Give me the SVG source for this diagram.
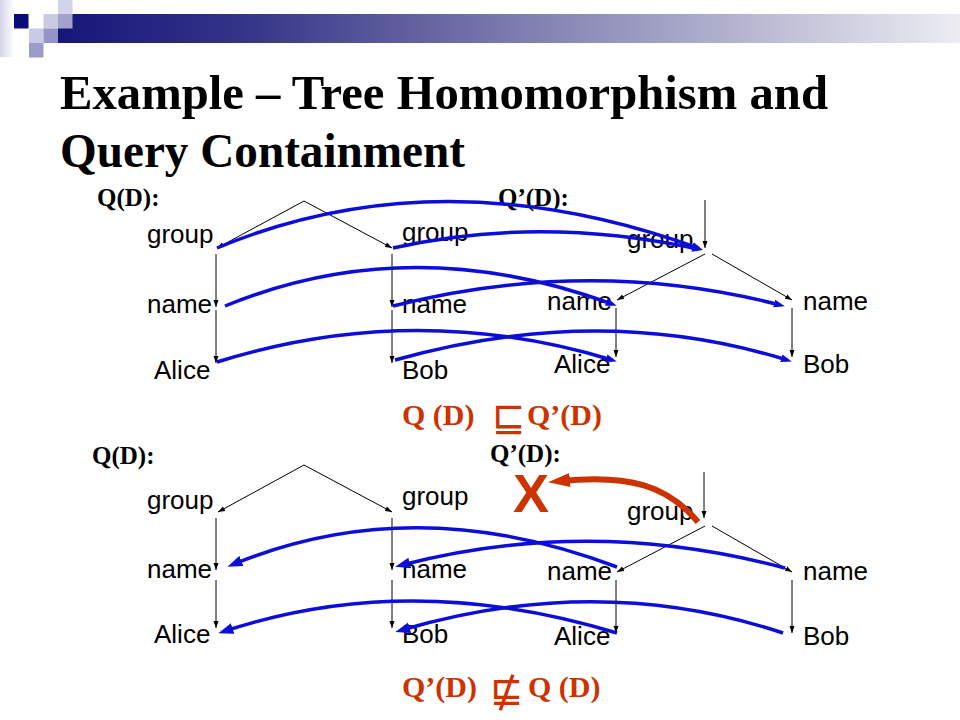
<svg xmlns="http://www.w3.org/2000/svg" width="960" height="720" viewBox="0 0 960 720">
<style>
.title{font-family:"Liberation Serif","Times New Roman",serif;font-weight:bold;font-size:48px;fill:#000}
.lbl{font-family:"Liberation Serif","Times New Roman",serif;font-weight:bold;font-size:25px;fill:#000}
.node{font-family:"Liberation Sans",Arial,sans-serif;font-size:26px;fill:#000}
.rel{font-family:"Liberation Serif","Times New Roman",serif;font-weight:bold;font-size:30px;fill:#cc3300}
.sym{font-family:"DejaVu Sans",sans-serif;font-size:40px;fill:#cc3300}
.edge{stroke:#000;stroke-width:1;fill:none;marker-end:url(#ah)}
.mapS{stroke:#0d0dd9;stroke-width:3.5;fill:none;marker-end:url(#bs)}
.mapL{stroke:#0d0dd9;stroke-width:3.5;fill:none;marker-end:url(#bl)}
</style>
<defs>
<linearGradient id="bar" x1="0" y1="0" x2="1" y2="0">
<stop offset="0" stop-color="#16167a"/>
<stop offset="0.2" stop-color="#333388"/>
<stop offset="0.55" stop-color="#8686b4"/>
<stop offset="1" stop-color="#ececf2"/>
</linearGradient>
<linearGradient id="strip" x1="0" y1="0" x2="1" y2="0">
<stop offset="0" stop-color="#d4d4ea"/>
<stop offset="1" stop-color="#ffffff"/>
</linearGradient>
<marker id="ah" markerUnits="userSpaceOnUse" markerWidth="7" markerHeight="6" refX="7" refY="3" orient="auto">
<path d="M0,0.5 L7,3 L0,5.5 z" fill="#000"/>
</marker>
<marker id="bs" markerUnits="userSpaceOnUse" markerWidth="12" markerHeight="9" refX="6" refY="4.5" orient="auto">
<path d="M0,0.5 L11,4.5 L0,8.5 z" fill="#0d0dd9"/>
</marker>
<marker id="bl" markerUnits="userSpaceOnUse" markerWidth="16" markerHeight="12" refX="8" refY="6" orient="auto">
<path d="M0,0.5 L15,6 L0,11.5 z" fill="#0d0dd9"/>
</marker>
<marker id="rh" markerUnits="userSpaceOnUse" markerWidth="23" markerHeight="15" refX="10" refY="7.5" orient="auto">
<path d="M0,0.5 L22,7.5 L0,14.5 z" fill="#cc3300"/>
</marker>
</defs>
<rect width="960" height="720" fill="#fff"/>
<g id="decoration">
<rect x="0" y="0" width="14" height="57" fill="url(#strip)"/>
<rect x="58" y="14" width="902" height="29" fill="url(#bar)"/>
<rect x="14" y="14" width="14.5" height="14.5" fill="#0a0a78"/>
<rect x="58" y="0" width="14.5" height="14.5" fill="#d2d2e8"/>
<rect x="43.5" y="14" width="14.5" height="14.5" fill="#cacae2"/>
<rect x="58" y="14" width="14.5" height="14.5" fill="#a2a2cc"/>
<rect x="29" y="28.5" width="14.5" height="14.5" fill="#cacae4"/>
<rect x="43.5" y="28.5" width="14.5" height="14.5" fill="#9494c6"/>
<rect x="29" y="43" width="14.5" height="14.5" fill="#9c9cca"/>
</g>
<g id="title">
<text class="title" x="60" y="109" textLength="768" lengthAdjust="spacingAndGlyphs">Example – Tree Homomorphism and</text>
<text class="title" x="60" y="167" textLength="405" lengthAdjust="spacingAndGlyphs">Query Containment</text>
</g>
<g id="labels">
<text class="lbl" x="97" y="206">Q(D):</text>
<text class="lbl" x="498" y="206">Q’(D):</text>
<text class="lbl" x="92" y="464">Q(D):</text>
<text class="lbl" x="490" y="462">Q’(D):</text>
</g>
<g id="top-q">
<g id="t-q-group1"><text class="node" x="147" y="243">group</text></g>
<g id="t-q-group2"><text class="node" x="402" y="241">group</text></g>
<g id="t-q-name1"><text class="node" x="147" y="313">name</text></g>
<g id="t-q-name2"><text class="node" x="402" y="313">name</text></g>
<g id="t-q-alice"><text class="node" x="154" y="379">Alice</text></g>
<g id="t-q-bob"><text class="node" x="402" y="379">Bob</text></g>
</g>
<g id="top-qp">
<g id="t-qp-group"><text class="node" x="627" y="248">group</text></g>
<g id="t-qp-name1"><text class="node" x="547" y="310">name</text></g>
<g id="t-qp-name2"><text class="node" x="803" y="310">name</text></g>
<g id="t-qp-alice"><text class="node" x="554" y="373">Alice</text></g>
<g id="t-qp-bob"><text class="node" x="803" y="373">Bob</text></g>
</g>
<g id="bottom-q">
<g id="b-q-group1"><text class="node" x="147" y="509">group</text></g>
<g id="b-q-group2"><text class="node" x="402" y="505">group</text></g>
<g id="b-q-name1"><text class="node" x="147" y="578">name</text></g>
<g id="b-q-name2"><text class="node" x="402" y="578">name</text></g>
<g id="b-q-alice"><text class="node" x="154" y="643">Alice</text></g>
<g id="b-q-bob"><text class="node" x="402" y="643">Bob</text></g>
</g>
<g id="bottom-qp">
<g id="b-qp-group"><text class="node" x="627" y="520">group</text></g>
<g id="b-qp-name1"><text class="node" x="547" y="580">name</text></g>
<g id="b-qp-name2"><text class="node" x="803" y="580">name</text></g>
<g id="b-qp-alice"><text class="node" x="554" y="645">Alice</text></g>
<g id="b-qp-bob"><text class="node" x="803" y="645">Bob</text></g>
</g>
<g id="connectors">
<line class="edge" x1="304" y1="201" x2="217" y2="248"/>
<line class="edge" x1="304" y1="201" x2="392" y2="248"/>
<line class="edge" x1="216" y1="254" x2="216" y2="307"/>
<line class="edge" x1="216" y1="310" x2="216" y2="363"/>
<line class="edge" x1="392" y1="254" x2="392" y2="307"/>
<line class="edge" x1="392" y1="310" x2="392" y2="363"/>
<line class="edge" x1="705" y1="200" x2="705" y2="248"/>
<line class="edge" x1="705" y1="254" x2="617" y2="300"/>
<line class="edge" x1="712" y1="254" x2="792" y2="300"/>
<line class="edge" x1="616" y1="308" x2="616" y2="357"/>
<line class="edge" x1="792" y1="308" x2="792" y2="357"/>
<line class="edge" x1="304" y1="465" x2="218" y2="512"/>
<line class="edge" x1="304" y1="465" x2="392" y2="512"/>
<line class="edge" x1="216" y1="518" x2="216" y2="570"/>
<line class="edge" x1="216" y1="580" x2="216" y2="628"/>
<line class="edge" x1="392" y1="518" x2="392" y2="570"/>
<line class="edge" x1="392" y1="580" x2="392" y2="628"/>
<line class="edge" x1="704" y1="472" x2="704" y2="518"/>
<line class="edge" x1="705" y1="526" x2="617" y2="572"/>
<line class="edge" x1="712" y1="526" x2="792" y2="572"/>
<line class="edge" x1="616" y1="580" x2="616" y2="633"/>
<line class="edge" x1="792" y1="580" x2="792" y2="633"/>
</g>
<g id="mappings">
<path class="mapS" d="M217,248 Q440,155 698,248"/>
<path class="mapS" d="M393,248 Q540,215 698,249"/>
<path class="mapS" d="M225,306 Q410,230 612,304"/>
<path class="mapS" d="M393,306 Q590,256 780,305"/>
<path class="mapS" d="M217,362 Q415,300 612,360"/>
<path class="mapS" d="M395,360 Q600,302 787,360"/>
<path class="mapL" d="M617,567 Q415,490 234,564"/>
<path class="mapL" d="M785,568 Q590,516 402,565"/>
<path class="mapL" d="M617,633 Q410,570 225,631"/>
<path class="mapL" d="M783,633 Q600,572 402,630"/>
</g>
<g id="relations">
<text class="rel" x="402" y="425">Q (D)</text>
<text class="sym" x="492" y="431">⊑</text>
<text class="rel" x="527" y="425">Q’(D)</text>
<text class="rel" x="402" y="697">Q’(D)</text>
<text class="sym" x="490" y="705">⋢</text>
<text class="rel" x="528" y="697">Q (D)</text>
</g>
<g id="failure">
<path d="M698,522 C668,486 630,474 560,481" stroke="#cc3300" stroke-width="6" fill="none" marker-end="url(#rh)"/>
<text x="513" y="512" font-family="Liberation Sans,Arial,sans-serif" font-weight="bold" font-size="54" fill="#cc3300">X</text>
</g>
</svg>
